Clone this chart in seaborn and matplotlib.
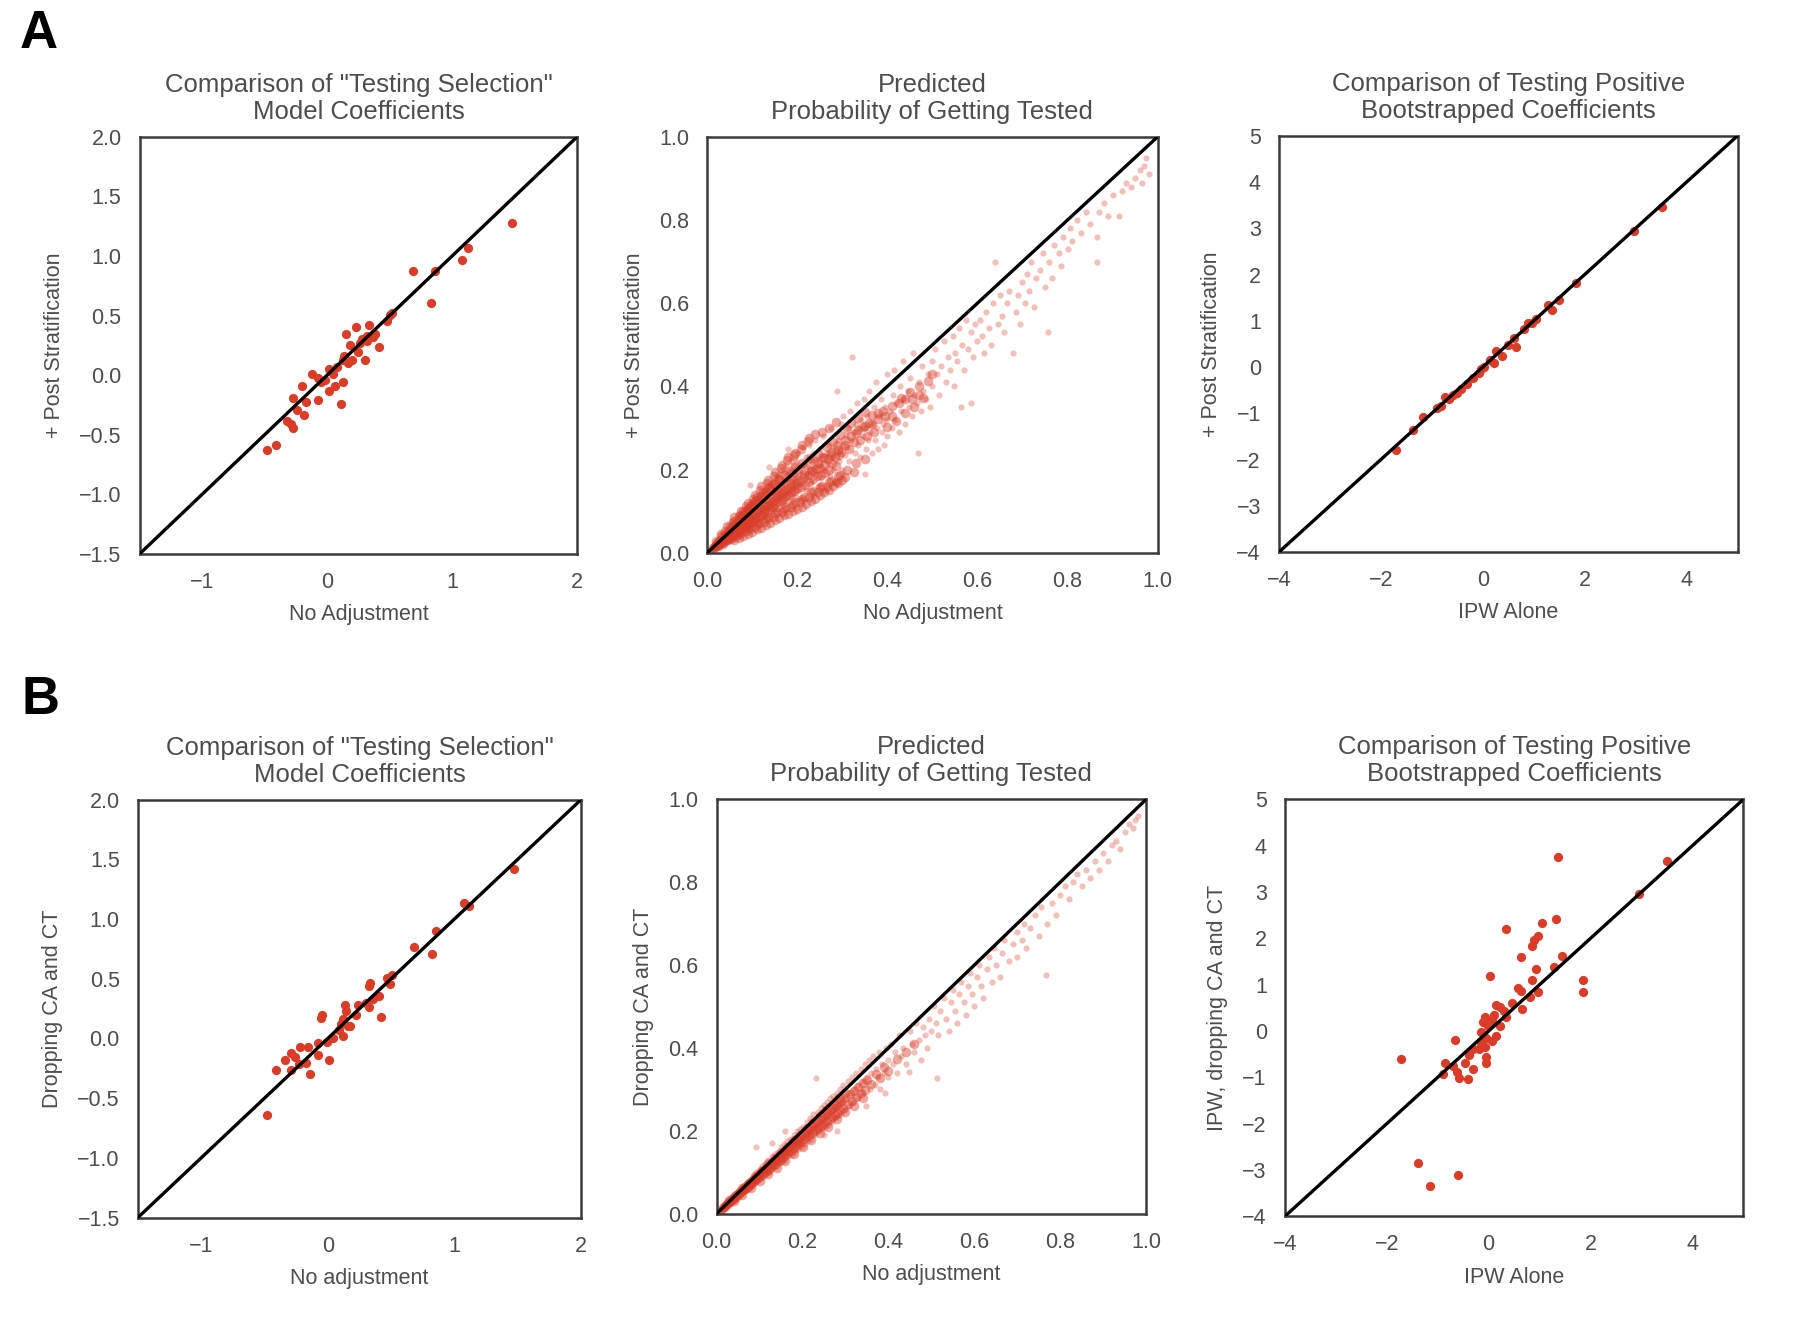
import matplotlib
matplotlib.use("Agg")
import matplotlib.pyplot as plt
import seaborn as sns

# ---------------- DATA ----------------
# Row A, panel 1: "Testing Selection" coefficients (No Adjustment vs + Post Stratification)
coefA1 = [(1.476, 1.273), (1.124, 1.071), (1.081, 0.969), (0.686, 0.870), (0.867, 0.870),
          (0.830, 0.602), (0.521, 0.525), (0.481, 0.457), (0.337, 0.425), (0.230, 0.404),
          (0.153, 0.348), (0.322, 0.332), (0.368, 0.317), (0.276, 0.301), (0.414, 0.239),
          (0.184, 0.255), (0.245, 0.193), (0.306, 0.130), (0.123, 0.130), (0.169, 0.099),
          (0.077, 0.068), (0.016, 0.053), (0.123, -0.056), (-0.122, 0.006), (-0.076, -0.025),
          (-0.046, -0.056), (0.016, -0.134), (0.108, -0.242), (-0.199, -0.087), (-0.275, -0.196),
          (-0.168, -0.227), (-0.076, -0.211), (-0.245, -0.289), (-0.184, -0.335), (-0.291, -0.413),
          (-0.275, -0.444), (-0.321, -0.382), (-0.413, -0.584), (-0.483, -0.630), (0.046, 0.006),
          (-0.015, -0.040), (0.061, -0.087), (0.505, 0.503), (0.260, 0.270), (0.322, 0.286),
          (0.383, 0.348), (0.138, 0.162), (0.199, 0.130)]

# Row A, panel 2: predicted probability of getting tested (sparse outer cloud + dense core)
probA = [(0.005, 0.006), (0.008, 0.007), (0.01, 0.012), (0.012, 0.009), (0.015, 0.018), (0.015, 0.012),
         (0.018, 0.016), (0.02, 0.025), (0.02, 0.015), (0.022, 0.02), (0.025, 0.03), (0.025, 0.019),
         (0.028, 0.024), (0.03, 0.036), (0.03, 0.022), (0.032, 0.03), (0.035, 0.04), (0.035, 0.027),
         (0.038, 0.034), (0.04, 0.047), (0.04, 0.03), (0.042, 0.038), (0.045, 0.05), (0.045, 0.034),
         (0.048, 0.043), (0.05, 0.058), (0.05, 0.037), (0.05, 0.047),
         (0.053, 0.06), (0.055, 0.041), (0.057, 0.052), (0.06, 0.07), (0.06, 0.044), (0.062, 0.056),
         (0.065, 0.075), (0.065, 0.048), (0.067, 0.06), (0.07, 0.082), (0.07, 0.05), (0.072, 0.064),
         (0.074, 0.07), (0.075, 0.088), (0.075, 0.054), (0.078, 0.068), (0.08, 0.095), (0.08, 0.056),
         (0.082, 0.074), (0.084, 0.08), (0.085, 0.1), (0.085, 0.06), (0.088, 0.078), (0.09, 0.105),
         (0.09, 0.062), (0.092, 0.082), (0.094, 0.088), (0.095, 0.11), (0.095, 0.066), (0.098, 0.086),
         (0.1, 0.115), (0.1, 0.07), (0.1, 0.092), (0.096, 0.162), (0.138, 0.206), (0.18, 0.25),
         (0.103, 0.12), (0.105, 0.072), (0.107, 0.094), (0.11, 0.125), (0.11, 0.08), (0.112, 0.1),
         (0.115, 0.108), (0.115, 0.135), (0.118, 0.078), (0.12, 0.14), (0.12, 0.09), (0.122, 0.11),
         (0.125, 0.118), (0.125, 0.145), (0.128, 0.085), (0.13, 0.15), (0.13, 0.1), (0.132, 0.12),
         (0.135, 0.128), (0.135, 0.16), (0.138, 0.092), (0.14, 0.165), (0.14, 0.105), (0.142, 0.13),
         (0.145, 0.138), (0.145, 0.17), (0.148, 0.1), (0.15, 0.18), (0.15, 0.112), (0.152, 0.14),
         (0.155, 0.148), (0.155, 0.185), (0.158, 0.105), (0.16, 0.19), (0.16, 0.12), (0.162, 0.15),
         (0.165, 0.158), (0.165, 0.2), (0.168, 0.112), (0.17, 0.195), (0.17, 0.128), (0.172, 0.16),
         (0.175, 0.168), (0.175, 0.21), (0.178, 0.12), (0.18, 0.2), (0.18, 0.135), (0.182, 0.17),
         (0.185, 0.178), (0.185, 0.22), (0.188, 0.128), (0.19, 0.21), (0.19, 0.142), (0.192, 0.18),
         (0.195, 0.19), (0.195, 0.225), (0.198, 0.135), (0.2, 0.215), (0.2, 0.15), (0.2, 0.182),
         (0.202, 0.24), (0.205, 0.165), (0.207, 0.19), (0.21, 0.2), (0.21, 0.13), (0.212, 0.255),
         (0.215, 0.175), (0.218, 0.21), (0.22, 0.23), (0.22, 0.15), (0.222, 0.19), (0.225, 0.26),
         (0.228, 0.2), (0.23, 0.17), (0.232, 0.22), (0.235, 0.24), (0.235, 0.14), (0.238, 0.205),
         (0.24, 0.27), (0.242, 0.19), (0.245, 0.225), (0.248, 0.16), (0.25, 0.25), (0.25, 0.21),
         (0.252, 0.18), (0.255, 0.235), (0.258, 0.28), (0.26, 0.2), (0.262, 0.15), (0.265, 0.24),
         (0.268, 0.215), (0.27, 0.26), (0.272, 0.185), (0.275, 0.3), (0.278, 0.23), (0.28, 0.2),
         (0.282, 0.25), (0.285, 0.17), (0.288, 0.39), (0.29, 0.27), (0.292, 0.22), (0.295, 0.245),
         (0.298, 0.31), (0.3, 0.2), (0.3, 0.26),
         (0.302, 0.33), (0.305, 0.235), (0.308, 0.28), (0.31, 0.255), (0.312, 0.3), (0.315, 0.22),
         (0.318, 0.34), (0.32, 0.27), (0.322, 0.47), (0.325, 0.29), (0.328, 0.24), (0.33, 0.31),
         (0.332, 0.36), (0.335, 0.26), (0.338, 0.3), (0.34, 0.23), (0.342, 0.32), (0.345, 0.28),
         (0.348, 0.37), (0.35, 0.19), (0.35, 0.3), (0.352, 0.25), (0.355, 0.33), (0.358, 0.27),
         (0.36, 0.39), (0.362, 0.29), (0.365, 0.24), (0.368, 0.31), (0.37, 0.35), (0.372, 0.27),
         (0.375, 0.41), (0.378, 0.3), (0.38, 0.25), (0.382, 0.33), (0.385, 0.37), (0.388, 0.29),
         (0.39, 0.31), (0.392, 0.26), (0.395, 0.35), (0.398, 0.32), (0.4, 0.28), (0.4, 0.43),
         (0.405, 0.34), (0.41, 0.3), (0.412, 0.38), (0.415, 0.44), (0.418, 0.32), (0.42, 0.36),
         (0.425, 0.29), (0.428, 0.4), (0.43, 0.34), (0.435, 0.46), (0.438, 0.37), (0.44, 0.31),
         (0.445, 0.39), (0.448, 0.35), (0.45, 0.42), (0.455, 0.33), (0.458, 0.48), (0.46, 0.38),
         (0.465, 0.36), (0.468, 0.24), (0.47, 0.41), (0.475, 0.34), (0.478, 0.45), (0.48, 0.39),
         (0.485, 0.37), (0.49, 0.43), (0.495, 0.35), (0.5, 0.46), (0.5, 0.4),
         (0.505, 0.49), (0.51, 0.43), (0.515, 0.38), (0.52, 0.45), (0.525, 0.51), (0.53, 0.41),
         (0.535, 0.47), (0.54, 0.44), (0.545, 0.52), (0.547, 0.4), (0.55, 0.48), (0.555, 0.46),
         (0.56, 0.54), (0.564, 0.35), (0.565, 0.5), (0.57, 0.44), (0.575, 0.56), (0.58, 0.49),
         (0.585, 0.36), (0.585, 0.53), (0.59, 0.47), (0.595, 0.55), (0.6, 0.51),
         (0.605, 0.56), (0.61, 0.52), (0.615, 0.48), (0.62, 0.58), (0.625, 0.54), (0.63, 0.5),
         (0.635, 0.6), (0.64, 0.7), (0.645, 0.55), (0.65, 0.62), (0.655, 0.57), (0.66, 0.53),
         (0.665, 0.6), (0.67, 0.63), (0.68, 0.48), (0.685, 0.58), (0.69, 0.62), (0.695, 0.55),
         (0.7, 0.65), (0.705, 0.6), (0.71, 0.67), (0.715, 0.63), (0.72, 0.7), (0.725, 0.59),
         (0.73, 0.66), (0.74, 0.68), (0.745, 0.72), (0.75, 0.64), (0.756, 0.53), (0.76, 0.7),
         (0.765, 0.66), (0.77, 0.74), (0.78, 0.72), (0.785, 0.69), (0.79, 0.76), (0.8, 0.73),
         (0.805, 0.78), (0.81, 0.75), (0.82, 0.8), (0.83, 0.77), (0.84, 0.82), (0.85, 0.79),
         (0.865, 0.7), (0.865, 0.76), (0.87, 0.82), (0.88, 0.84), (0.89, 0.81), (0.9, 0.86),
         (0.915, 0.81), (0.92, 0.87), (0.93, 0.89), (0.94, 0.88), (0.95, 0.9), (0.96, 0.92),
         (0.965, 0.89), (0.97, 0.93), (0.975, 0.95), (0.98, 0.91)]

probA_core = [(0.012, 0.011), (0.014, 0.015), (0.017, 0.013), (0.019, 0.021), (0.021, 0.018), (0.023, 0.016),
              (0.024, 0.027), (0.026, 0.022), (0.027, 0.02), (0.029, 0.031), (0.031, 0.026), (0.033, 0.023),
              (0.034, 0.038), (0.036, 0.03), (0.037, 0.027), (0.039, 0.042), (0.041, 0.034), (0.043, 0.03),
              (0.044, 0.049), (0.046, 0.041), (0.047, 0.035), (0.049, 0.055), (0.051, 0.043), (0.053, 0.038),
              (0.054, 0.061), (0.056, 0.05), (0.058, 0.042), (0.059, 0.066), (0.061, 0.052), (0.063, 0.046),
              (0.064, 0.072), (0.066, 0.057), (0.068, 0.051), (0.069, 0.079), (0.071, 0.062), (0.073, 0.054),
              (0.074, 0.085), (0.076, 0.065), (0.078, 0.058), (0.079, 0.09), (0.081, 0.071), (0.083, 0.061),
              (0.084, 0.097), (0.086, 0.076), (0.088, 0.065), (0.089, 0.103), (0.091, 0.08), (0.093, 0.069),
              (0.094, 0.11), (0.096, 0.084), (0.098, 0.073), (0.099, 0.118), (0.101, 0.087), (0.103, 0.078),
              (0.105, 0.124), (0.107, 0.091), (0.109, 0.081), (0.111, 0.135), (0.113, 0.098), (0.115, 0.087),
              (0.117, 0.128), (0.119, 0.103), (0.121, 0.092), (0.123, 0.145), (0.125, 0.106), (0.127, 0.096),
              (0.129, 0.138), (0.131, 0.113), (0.133, 0.101), (0.135, 0.155), (0.137, 0.116), (0.139, 0.107),
              (0.141, 0.149), (0.143, 0.123), (0.145, 0.111), (0.147, 0.165), (0.149, 0.126), (0.151, 0.117),
              (0.153, 0.158), (0.155, 0.133), (0.157, 0.121), (0.159, 0.177), (0.161, 0.138), (0.163, 0.126),
              (0.165, 0.171), (0.167, 0.143), (0.169, 0.13), (0.171, 0.188), (0.173, 0.148), (0.175, 0.136),
              (0.177, 0.181), (0.179, 0.153), (0.181, 0.139), (0.183, 0.196), (0.185, 0.158), (0.187, 0.145),
              (0.189, 0.192), (0.191, 0.163), (0.193, 0.149), (0.195, 0.207), (0.197, 0.168), (0.199, 0.154),
              (0.202, 0.2), (0.205, 0.173), (0.208, 0.157), (0.211, 0.216), (0.214, 0.181), (0.217, 0.164),
              (0.22, 0.21), (0.223, 0.188), (0.226, 0.169), (0.229, 0.228), (0.232, 0.196), (0.235, 0.177),
              (0.238, 0.22), (0.241, 0.201), (0.244, 0.184), (0.247, 0.238), (0.25, 0.203), (0.253, 0.188),
              (0.256, 0.23), (0.259, 0.211), (0.262, 0.192), (0.265, 0.255), (0.268, 0.226), (0.271, 0.198),
              (0.274, 0.243), (0.277, 0.216), (0.28, 0.266), (0.283, 0.231), (0.286, 0.208), (0.289, 0.258),
              (0.292, 0.236), (0.295, 0.284), (0.298, 0.242), (0.305, 0.272), (0.31, 0.298), (0.315, 0.25),
              (0.32, 0.312), (0.325, 0.266), (0.33, 0.287), (0.335, 0.323), (0.34, 0.272), (0.345, 0.302),
              (0.35, 0.338), (0.355, 0.281), (0.36, 0.312), (0.365, 0.332), (0.37, 0.291), (0.38, 0.322),
              (0.39, 0.342), (0.4, 0.302), (0.41, 0.352), (0.42, 0.318), (0.43, 0.372), (0.44, 0.335),
              (0.45, 0.386), (0.46, 0.35), (0.47, 0.4), (0.48, 0.372), (0.49, 0.413), (0.5, 0.43),
              (0.057, 0.074), (0.072, 0.09), (0.087, 0.112), (0.102, 0.13), (0.118, 0.15), (0.133, 0.168),
              (0.148, 0.185), (0.163, 0.205), (0.178, 0.222), (0.193, 0.235), (0.208, 0.25), (0.224, 0.268),
              (0.03, 0.045), (0.045, 0.065), (0.06, 0.085), (0.075, 0.1), (0.09, 0.12), (0.105, 0.14),
              (0.12, 0.16), (0.135, 0.175), (0.15, 0.195), (0.165, 0.21), (0.18, 0.23), (0.195, 0.24),
              (0.21, 0.26), (0.225, 0.275), (0.24, 0.285), (0.255, 0.29), (0.27, 0.3), (0.285, 0.315),
              (0.05, 0.032), (0.07, 0.045), (0.09, 0.058), (0.11, 0.07), (0.13, 0.082), (0.15, 0.095),
              (0.17, 0.105), (0.19, 0.118), (0.21, 0.13), (0.23, 0.145), (0.25, 0.158), (0.27, 0.17),
              (0.29, 0.185), (0.31, 0.2), (0.33, 0.215), (0.35, 0.225),
              (0.04, 0.036), (0.055, 0.048), (0.065, 0.063), (0.08, 0.074), (0.095, 0.09), (0.11, 0.1),
              (0.125, 0.115), (0.14, 0.125), (0.155, 0.14), (0.17, 0.15), (0.185, 0.168), (0.2, 0.176),
              (0.215, 0.19), (0.23, 0.2), (0.245, 0.215), (0.26, 0.228), (0.275, 0.235), (0.29, 0.248),
              (0.305, 0.26), (0.32, 0.28), (0.335, 0.295), (0.35, 0.305), (0.365, 0.31), (0.38, 0.335),
              (0.395, 0.33), (0.41, 0.33), (0.425, 0.36), (0.44, 0.37), (0.455, 0.37), (0.47, 0.38),
              (0.06, 0.03), (0.07, 0.036), (0.08, 0.04), (0.09, 0.045), (0.1, 0.05), (0.11, 0.056),
              (0.12, 0.06), (0.13, 0.066), (0.14, 0.072), (0.15, 0.078), (0.16, 0.084), (0.17, 0.09),
              (0.18, 0.094), (0.19, 0.1), (0.2, 0.105), (0.21, 0.11), (0.22, 0.118), (0.23, 0.125),
              (0.24, 0.13), (0.25, 0.138), (0.26, 0.145), (0.27, 0.152), (0.28, 0.16), (0.29, 0.168),
              (0.3, 0.175), (0.065, 0.04), (0.085, 0.052), (0.105, 0.063), (0.125, 0.075), (0.145, 0.087),
              (0.165, 0.099), (0.185, 0.11), (0.205, 0.122), (0.225, 0.134), (0.245, 0.146), (0.265, 0.158),
              (0.285, 0.17), (0.305, 0.182), (0.325, 0.195), (0.075, 0.047), (0.095, 0.06), (0.115, 0.072),
              (0.135, 0.085), (0.155, 0.098), (0.175, 0.11), (0.195, 0.122), (0.215, 0.135), (0.235, 0.148),
              (0.255, 0.16), (0.275, 0.173), (0.295, 0.186), (0.02, 0.028), (0.03, 0.04), (0.04, 0.052),
              (0.05, 0.064), (0.06, 0.076), (0.07, 0.088), (0.08, 0.1), (0.09, 0.108), (0.1, 0.118),
              (0.11, 0.128), (0.12, 0.136), (0.13, 0.146), (0.14, 0.156), (0.15, 0.165), (0.16, 0.175),
              (0.045, 0.03), (0.055, 0.036), (0.035, 0.022), (0.025, 0.017)]

# Row A, panel 3: testing positive bootstrapped coefficients (IPW Alone vs + Post Stratification)
bootA = [(3.51, 3.456), (2.967, 2.944), (1.834, 1.824), (1.493, 1.456), (1.353, 1.24), (1.275, 1.344),
         (1.043, 1.04), (0.888, 0.944), (0.81, 0.824), (0.655, 0.44), (0.616, 0.624), (0.383, 0.24),
         (0.267, 0.344), (0.150, 0.16), (0.034, 0.0), (-0.082, -0.12), (-0.199, -0.24), (-0.315, -0.36),
         (-0.431, -0.48), (-0.586, -0.6), (-0.664, -0.68), (-0.742, -0.64), (-0.897, -0.88),
         (-1.169, -1.08), (-1.362, -1.36), (-1.711, -1.80), (-0.04, -0.04), (0.23, 0.08), (0.5, 0.48),
         (-0.51, -0.56), (-0.82, -0.84), (0.965, 0.96)]

# Row B, panel 1: "Testing Selection" coefficients (No adjustment vs Dropping CA and CT)
coefB1 = [(1.468, 1.423), (1.075, 1.135), (1.117, 1.112), (0.851, 0.897), (0.682, 0.769), (0.821, 0.705),
          (0.510, 0.535), (0.470, 0.503), (0.488, 0.455), (0.337, 0.462), (0.328, 0.439), (0.404, 0.359),
          (0.359, 0.327), (0.298, 0.295), (0.238, 0.279), (0.328, 0.263), (0.132, 0.279), (0.147, 0.231),
          (0.223, 0.199), (0.419, 0.183), (0.117, 0.167), (-0.049, 0.199), (-0.055, 0.173), (0.178, 0.103),
          (0.087, 0.071), (0.117, 0.022), (0.041, 0.006), (-0.004, -0.026), (-0.080, -0.042),
          (-0.155, -0.074), (-0.216, -0.074), (-0.291, -0.122), (-0.261, -0.154), (-0.337, -0.179),
          (-0.080, -0.138), (0.011, -0.179), (-0.170, -0.202), (-0.231, -0.218), (-0.412, -0.266),
          (-0.291, -0.266), (-0.140, -0.298), (-0.482, -0.641), (0.163, 0.103), (0.102, 0.119)]

# Row B, panel 2: predicted probability of getting tested (sparse outer cloud + dense core)
probB = [(0.005, 0.005), (0.008, 0.009), (0.01, 0.008), (0.012, 0.014), (0.015, 0.013), (0.018, 0.02),
         (0.02, 0.016), (0.022, 0.024), (0.025, 0.021), (0.028, 0.031), (0.03, 0.025), (0.032, 0.034),
         (0.035, 0.03), (0.038, 0.042), (0.04, 0.033), (0.042, 0.045), (0.045, 0.038), (0.048, 0.052),
         (0.05, 0.042), (0.052, 0.056), (0.055, 0.047), (0.058, 0.062), (0.06, 0.05), (0.062, 0.066),
         (0.065, 0.055), (0.068, 0.072), (0.07, 0.058), (0.072, 0.076), (0.075, 0.064), (0.078, 0.082),
         (0.08, 0.067), (0.082, 0.086), (0.085, 0.072), (0.088, 0.092), (0.09, 0.075), (0.092, 0.1),
         (0.095, 0.08), (0.098, 0.1), (0.1, 0.085), (0.1, 0.108),
         (0.102, 0.095), (0.105, 0.114), (0.108, 0.088), (0.11, 0.104), (0.112, 0.12), (0.115, 0.098),
         (0.118, 0.112), (0.12, 0.13), (0.122, 0.1), (0.125, 0.118), (0.128, 0.138), (0.13, 0.108),
         (0.132, 0.125), (0.135, 0.145), (0.138, 0.112), (0.14, 0.132), (0.142, 0.15), (0.145, 0.12),
         (0.148, 0.138), (0.15, 0.16), (0.152, 0.125), (0.155, 0.145), (0.158, 0.168), (0.16, 0.13),
         (0.162, 0.152), (0.165, 0.175), (0.168, 0.138), (0.17, 0.158), (0.172, 0.18), (0.175, 0.142),
         (0.178, 0.165), (0.18, 0.19), (0.182, 0.15), (0.185, 0.17), (0.188, 0.2), (0.19, 0.155),
         (0.192, 0.178), (0.195, 0.205), (0.198, 0.16), (0.2, 0.185), (0.092, 0.16), (0.13, 0.17),
         (0.16, 0.2),
         (0.202, 0.21), (0.205, 0.168), (0.208, 0.19), (0.21, 0.22), (0.212, 0.175), (0.215, 0.198),
         (0.218, 0.23), (0.22, 0.18), (0.222, 0.205), (0.225, 0.24), (0.228, 0.19), (0.23, 0.212),
         (0.232, 0.328), (0.235, 0.245), (0.238, 0.2), (0.24, 0.22), (0.242, 0.255), (0.245, 0.205),
         (0.248, 0.23), (0.25, 0.262), (0.252, 0.21), (0.255, 0.238), (0.258, 0.27), (0.26, 0.215),
         (0.262, 0.245), (0.265, 0.28), (0.268, 0.222), (0.27, 0.25), (0.272, 0.285), (0.275, 0.23),
         (0.278, 0.26), (0.28, 0.29), (0.282, 0.235), (0.285, 0.265), (0.288, 0.3), (0.29, 0.24),
         (0.292, 0.27), (0.295, 0.31), (0.298, 0.25), (0.3, 0.28), (0.28, 0.2), (0.25, 0.19),
         (0.305, 0.32), (0.308, 0.26), (0.31, 0.29), (0.315, 0.33), (0.318, 0.27), (0.32, 0.3),
         (0.325, 0.34), (0.328, 0.28), (0.33, 0.31), (0.335, 0.35), (0.338, 0.29), (0.34, 0.32),
         (0.345, 0.36), (0.348, 0.26), (0.35, 0.33), (0.355, 0.37), (0.358, 0.3), (0.36, 0.34),
         (0.365, 0.38), (0.368, 0.31), (0.37, 0.35), (0.375, 0.33), (0.378, 0.39), (0.38, 0.3),
         (0.385, 0.36), (0.39, 0.34), (0.392, 0.29), (0.395, 0.4), (0.4, 0.37), (0.4, 0.33),
         (0.405, 0.41), (0.41, 0.36), (0.415, 0.39), (0.42, 0.34), (0.425, 0.43), (0.43, 0.38),
         (0.435, 0.4), (0.44, 0.36), (0.447, 0.342), (0.45, 0.44), (0.455, 0.41), (0.46, 0.39),
         (0.465, 0.46), (0.47, 0.42), (0.475, 0.37), (0.48, 0.45), (0.485, 0.43), (0.49, 0.4),
         (0.495, 0.47), (0.5, 0.44), (0.512, 0.328),
         (0.505, 0.5), (0.51, 0.46), (0.515, 0.43), (0.52, 0.49), (0.53, 0.52), (0.535, 0.47),
         (0.54, 0.44), (0.545, 0.51), (0.55, 0.54), (0.555, 0.49), (0.56, 0.46), (0.565, 0.53),
         (0.57, 0.56), (0.575, 0.51), (0.58, 0.48), (0.585, 0.55), (0.59, 0.58), (0.595, 0.53),
         (0.6, 0.5), (0.605, 0.57), (0.61, 0.6), (0.615, 0.55), (0.62, 0.52), (0.63, 0.59),
         (0.635, 0.62), (0.64, 0.56), (0.645, 0.64), (0.65, 0.6), (0.66, 0.57), (0.665, 0.63),
         (0.67, 0.66), (0.68, 0.61), (0.69, 0.65), (0.7, 0.68), (0.7, 0.62),
         (0.71, 0.66), (0.715, 0.7), (0.72, 0.64), (0.73, 0.69), (0.74, 0.72), (0.75, 0.67),
         (0.755, 0.74), (0.766, 0.577), (0.77, 0.7), (0.78, 0.75), (0.79, 0.72), (0.8, 0.77),
         (0.81, 0.79), (0.82, 0.76), (0.83, 0.8), (0.84, 0.82), (0.85, 0.79), (0.86, 0.83),
         (0.87, 0.81), (0.88, 0.85), (0.89, 0.83), (0.9, 0.87), (0.91, 0.85), (0.92, 0.89),
         (0.93, 0.9), (0.94, 0.88), (0.95, 0.92), (0.96, 0.94), (0.97, 0.93), (0.975, 0.95),
         (0.98, 0.96)]

probB_core = [(0.011, 0.01), (0.014, 0.013), (0.017, 0.016), (0.019, 0.018), (0.022, 0.02), (0.024, 0.023),
              (0.027, 0.025), (0.029, 0.028), (0.032, 0.029), (0.034, 0.033), (0.037, 0.034), (0.039, 0.038),
              (0.042, 0.039), (0.044, 0.043), (0.047, 0.043), (0.049, 0.048), (0.052, 0.047), (0.054, 0.053),
              (0.057, 0.052), (0.059, 0.058), (0.062, 0.056), (0.064, 0.062), (0.067, 0.06), (0.069, 0.067),
              (0.072, 0.065), (0.074, 0.072), (0.077, 0.069), (0.079, 0.077), (0.082, 0.074), (0.084, 0.082),
              (0.087, 0.078), (0.089, 0.087), (0.092, 0.083), (0.094, 0.091), (0.097, 0.087), (0.099, 0.096),
              (0.102, 0.091), (0.104, 0.1), (0.107, 0.095), (0.109, 0.105), (0.112, 0.1), (0.114, 0.11),
              (0.117, 0.104), (0.119, 0.114), (0.122, 0.108), (0.124, 0.119), (0.127, 0.113), (0.129, 0.124),
              (0.132, 0.117), (0.134, 0.128), (0.137, 0.121), (0.139, 0.133), (0.142, 0.126), (0.144, 0.137),
              (0.147, 0.13), (0.149, 0.142), (0.152, 0.135), (0.154, 0.147), (0.157, 0.139), (0.159, 0.151),
              (0.162, 0.143), (0.164, 0.156), (0.167, 0.148), (0.169, 0.16), (0.172, 0.152), (0.174, 0.165),
              (0.177, 0.156), (0.179, 0.17), (0.182, 0.161), (0.184, 0.174), (0.187, 0.165), (0.189, 0.179),
              (0.192, 0.17), (0.194, 0.183), (0.197, 0.174), (0.199, 0.188), (0.203, 0.179), (0.206, 0.194),
              (0.209, 0.184), (0.212, 0.2), (0.215, 0.189), (0.218, 0.205), (0.221, 0.194), (0.224, 0.211),
              (0.227, 0.199), (0.23, 0.216), (0.233, 0.204), (0.236, 0.222), (0.239, 0.209), (0.242, 0.227),
              (0.245, 0.214), (0.248, 0.233), (0.251, 0.219), (0.254, 0.238), (0.257, 0.224), (0.26, 0.244),
              (0.263, 0.229), (0.266, 0.249), (0.269, 0.234), (0.272, 0.255), (0.275, 0.239), (0.278, 0.26),
              (0.281, 0.244), (0.284, 0.266), (0.287, 0.249), (0.29, 0.271), (0.295, 0.256), (0.3, 0.279),
              (0.305, 0.265), (0.31, 0.288), (0.315, 0.272), (0.32, 0.297), (0.325, 0.281), (0.33, 0.306),
              (0.335, 0.29), (0.34, 0.315), (0.345, 0.298), (0.35, 0.322), (0.36, 0.312), (0.37, 0.338),
              (0.38, 0.328), (0.39, 0.355), (0.4, 0.345), (0.42, 0.372), (0.44, 0.39), (0.46, 0.41),
              (0.03, 0.032), (0.045, 0.046), (0.06, 0.061), (0.075, 0.075), (0.09, 0.092), (0.105, 0.104),
              (0.12, 0.122), (0.135, 0.134), (0.15, 0.15), (0.165, 0.162), (0.18, 0.178), (0.195, 0.19),
              (0.21, 0.207), (0.225, 0.22), (0.24, 0.236), (0.255, 0.25), (0.27, 0.262), (0.285, 0.278),
              (0.3, 0.29), (0.04, 0.03), (0.06, 0.046), (0.08, 0.062), (0.1, 0.08), (0.12, 0.095),
              (0.14, 0.11), (0.16, 0.128), (0.18, 0.144), (0.2, 0.16), (0.22, 0.178), (0.24, 0.195),
              (0.26, 0.21), (0.28, 0.228), (0.3, 0.245), (0.32, 0.26), (0.34, 0.28)]

# Row B, panel 3: testing positive bootstrapped coefficients (IPW Alone vs IPW, dropping CA and CT)
bootB = [(1.353, 3.753), (3.502, 3.670), (2.943, 2.952), (1.314, 2.415), (1.043, 2.333), (0.344, 2.209),
         (0.965, 2.044), (0.888, 1.961), (0.849, 1.837), (0.632, 1.590), (1.430, 1.615), (1.275, 1.383),
         (0.926, 1.342), (0.034, 1.193), (1.842, 1.094), (1.857, 0.830), (0.849, 1.094), (0.578, 0.929),
         (0.632, 0.863), (0.965, 0.846), (0.810, 0.723), (0.655, 0.475), (0.461, 0.599), (0.228, 0.516),
         (0.151, 0.557), (0.344, 0.310), (0.112, 0.351), (-0.082, 0.310), (0.228, 0.103), (-0.004, 0.103),
         (-0.121, 0.186), (0.151, -0.103), (-0.043, -0.145), (-0.160, -0.268), (0.073, -0.227),
         (-0.198, -0.392), (-0.082, -0.351), (-0.664, -0.186), (-0.315, -0.392), (-0.392, -0.516),
         (-0.043, -0.557), (-0.043, -0.681), (-0.470, -0.681), (-0.300, -0.822), (-1.711, -0.599),
         (-0.858, -0.681), (-0.703, -0.764), (-0.896, -0.929), (-0.625, -0.888), (-0.587, -1.012),
         (-0.408, -1.028), (-1.386, -2.845), (-0.610, -3.117), (-1.145, -3.349), (-0.16, -0.02),
         (0.07, 0.23), (0.3, 0.43)]

titles = ['Comparison of "Testing Selection"\nModel Coefficients',
          'Predicted\nProbability of Getting Tested',
          'Comparison of Testing Positive\nBootstrapped Coefficients']
xlabels_A = ["No Adjustment", "No Adjustment", "IPW Alone"]
ylabels_A = ["+ Post Stratification", "+ Post Stratification", "+ Post Stratification"]
xlabels_B = ["No adjustment", "No adjustment", "IPW Alone"]
ylabels_B = ["Dropping CA and CT", "Dropping CA and CT", "IPW, dropping CA and CT"]

lims = [(-1.5, 2.0), (0.0, 1.0), (-4.0, 5.0)]
xticks = [[-1, 0, 1, 2], [0, 0.2, 0.4, 0.6, 0.8, 1.0], [-4, -2, 0, 2, 4]]
yticks = [[-1.5, -1.0, -0.5, 0.0, 0.5, 1.0, 1.5, 2.0], [0, 0.2, 0.4, 0.6, 0.8, 1.0],
          [-4, -3, -2, -1, 0, 1, 2, 3, 4, 5]]
xfmt = ["{:.0f}", "{:.1f}", "{:.0f}"]
yfmt = ["{:.1f}", "{:.1f}", "{:.0f}"]

# ---------------- STYLE ----------------
sns.set_style("white")
plt.rcParams["font.family"] = ["Liberation Sans", "DejaVu Sans"]

RED = "#da3c28"
TXT = "#4d4d4d"

fig = plt.figure(figsize=(18, 13.43), dpi=100)

positions = {
    ("A", 0): [0.0776, 0.5876, 0.2430, 0.3105],
    ("A", 1): [0.3929, 0.5884, 0.2502, 0.3097],
    ("A", 2): [0.7105, 0.5889, 0.2548, 0.3100],
    ("B", 0): [0.0766, 0.0934, 0.2462, 0.3112],
    ("B", 1): [0.3981, 0.0963, 0.2387, 0.3086],
    ("B", 2): [0.7138, 0.0943, 0.2548, 0.3106],
}

data = {
    ("A", 0): [coefA1], ("A", 1): [probA, probA_core], ("A", 2): [bootA],
    ("B", 0): [coefB1], ("B", 1): [probB, probB_core], ("B", 2): [bootB],
}


def fmt_tick(f, v):
    return f.format(v).replace("-", "\u2212")


for row, xl, yl in (("A", xlabels_A, ylabels_A), ("B", xlabels_B, ylabels_B)):
    for i in range(3):
        ax = fig.add_axes(positions[(row, i)])
        for k, pts in enumerate(data[(row, i)]):
            xs = [p[0] for p in pts]
            ys = [p[1] for p in pts]
            if i == 1:
                sns.scatterplot(x=xs, y=ys, ax=ax, color=RED,
                                s=20 if k == 0 else 48,
                                alpha=0.32 if k == 0 else 0.45,
                                linewidth=0, zorder=2)
            else:
                sns.scatterplot(x=xs, y=ys, ax=ax, color=RED, s=44, alpha=1.0,
                                linewidth=0, zorder=2)
        lo, hi = lims[i]
        ax.axline((lo, lo), (hi, hi), color="black", lw=2.4, zorder=3)
        ax.set_xlim(lo, hi)
        ax.set_ylim(lo, hi)
        ax.set_xticks(xticks[i])
        ax.set_yticks(yticks[i])
        ax.set_xticklabels([fmt_tick(xfmt[i], v) for v in xticks[i]])
        ax.set_yticklabels([fmt_tick(yfmt[i], v) for v in yticks[i]])
        ax.tick_params(axis="both", length=0, pad=13, labelsize=15.5, labelcolor=TXT)
        for sp in ax.spines.values():
            sp.set_color("#3a3a3a")
            sp.set_linewidth(1.8)
            sp.set_visible(True)
        ax.set_title(titles[i], fontsize=18.5, color=TXT, pad=13, linespacing=1.15)
        ax.set_xlabel(xl[i], fontsize=15.5, color=TXT, labelpad=8)
        ax.set_ylabel(yl[i], fontsize=15.5, color=TXT, labelpad=10)

fig.text(0.011, 0.964, "A", fontsize=38, fontweight="bold", color="black")
fig.text(0.012, 0.468, "B", fontsize=38, fontweight="bold", color="black")

fig.savefig("out.png", dpi=100, facecolor="white")
